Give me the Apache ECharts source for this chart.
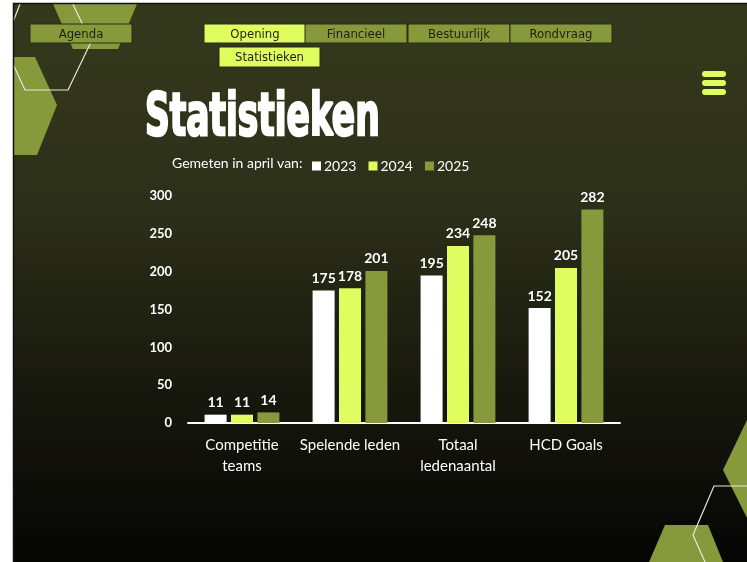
<!DOCTYPE html>
<html>
<head>
<meta charset="utf-8">
<script src="https://cdn.jsdelivr.net/npm/echarts@6/dist/echarts.min.js"></script>
<style>
  html, body { margin: 0; padding: 0; background: #fff; }
  #chart { width: 747px; height: 562px; }
</style>
</head>
<body>
<div id="chart"></div>
<script>
// data
var categories = ['Competitie\nteams', 'Spelende leden', 'Totaal\nledenaantal', 'HCD Goals'];
var years = ['2023', '2024', '2025'];
var values2023 = [11, 175, 195, 152];
var values2024 = [11, 178, 234, 205];
var values2025 = [14, 201, 248, 282];
var yTicks = [0, 50, 100, 150, 200, 250, 300];
var navTop = ['Opening', 'Financieel', 'Bestuurlijk', 'Rondvraag'];

var lime = '#dffd5e';
var olive = '#869a3c';
var font = 'Lato, "Open Sans", sans-serif';
var navFont = '"DejaVu Sans Condensed", sans-serif';

var chart = echarts.init(document.getElementById('chart'));

// decorations & navigation boxes (not data)
function navBox(x, y, w, h, text, fill) {
  return {
    type: 'group', x: x, y: y, z: 5,
    children: [
      { type: 'rect', shape: { x: 0, y: 0, width: w, height: h },
        style: { fill: fill, stroke: '#2a2c16', lineWidth: 1 } },
      { type: 'text', x: w / 2, y: h / 2 + 1,
        style: { text: text, fill: '#1d2010', font: '13px ' + navFont, align: 'center', verticalAlign: 'middle' } }
    ]
  };
}

var graphics = [
  // slide background
  { type: 'rect', z: -10, shape: { x: 13, y: 4, width: 734, height: 558 },
    style: { fill: new echarts.graphic.LinearGradient(0, 0, 0, 1, [
      { offset: 0, color: '#35391c' },
      { offset: 0.35, color: '#2d3019' },
      { offset: 0.7, color: '#17180d' },
      { offset: 1, color: '#050504' }
    ]) } },
  // top-left shapes
  { type: 'polygon', z: -5, shape: { points: [[53, 4], [137, 4], [118, 49], [73, 49]] }, style: { fill: olive } },
  { type: 'polygon', z: -5, shape: { points: [[13, 57], [35, 57], [57, 105], [37, 155], [13, 155]] }, style: { fill: olive } },
  { type: 'polyline', z: -4, shape: { points: [[13, 64], [25, 90], [68, 90], [91, 42], [70, -2]] },
    style: { stroke: '#e8e8e0', lineWidth: 1.2, fill: null } },
  { type: 'polyline', z: -4, shape: { points: [[13, 22], [20, 4]] },
    style: { stroke: '#e8e8e0', lineWidth: 1.2, fill: null } },
  // bottom-right shapes
  { type: 'polygon', z: -5, shape: { points: [[747, 420], [723, 470], [747, 518]] }, style: { fill: olive } },
  { type: 'polygon', z: -5, shape: { points: [[665, 525], [708, 525], [723, 562], [649, 562]] }, style: { fill: olive } },
  { type: 'polyline', z: -4, shape: { points: [[747, 486], [714, 486], [693, 535], [705, 562]] },
    style: { stroke: '#e8e8e0', lineWidth: 1.2, fill: null } },
  // hamburger icon
  { type: 'rect', z: 5, shape: { x: 702, y: 71, width: 24, height: 6, r: 3 }, style: { fill: lime } },
  { type: 'rect', z: 5, shape: { x: 702, y: 80, width: 24, height: 6, r: 3 }, style: { fill: lime } },
  { type: 'rect', z: 5, shape: { x: 702, y: 89, width: 24, height: 6, r: 3 }, style: { fill: lime } },
  // title
  { type: 'text', z: 5, x: 145, y: 149, scaleX: 0.66,
    style: { text: 'Statistieken', fill: '#fff', stroke: '#fff', lineWidth: 2.5,
      font: 'bold 58px ' + navFont, verticalAlign: 'bottom' } },
  // legend caption
  { type: 'text', z: 5, x: 172, y: 163,
    style: { text: 'Gemeten in april van:', fill: '#fff', font: '14px ' + font, verticalAlign: 'middle' } },
  navBox(30, 24, 102, 19, 'Agenda', olive),
  navBox(219, 47, 101, 20, 'Statistieken', lime),
  // frame
  { type: 'rect', z: 20, shape: { x: 0, y: 0, width: 13, height: 562 }, style: { fill: '#fff' } },
  { type: 'rect', z: 20, shape: { x: 0, y: 0, width: 747, height: 3 }, style: { fill: '#fff' } },
  { type: 'polyline', z: 21, shape: { points: [[13.5, 562], [13.5, 3.5], [747, 3.5]] },
    style: { stroke: '#111', lineWidth: 1.5, fill: null } }
];

var navX = [204, 305, 408, 510];
navTop.forEach(function (t, i) {
  graphics.push(navBox(navX[i], 24, 102, 19, t, i === 0 ? lime : olive));
});

var seriesData = [values2023, values2024, values2025];
var seriesColors = ['#ffffff', lime, olive];

var series = years.map(function (y, i) {
  return {
    name: y,
    type: 'bar',
    data: seriesData[i],
    barWidth: 22,
    barGap: '20%',
    itemStyle: { color: seriesColors[i] },
    label: {
      show: true, position: 'top', distance: 5,
      color: '#fff', fontFamily: font, fontSize: 14, fontWeight: 'bold'
    }
  };
});

chart.setOption({
  backgroundColor: '#fff',
  animation: false,
  graphic: graphics,
  legend: {
    data: years,
    left: 307, top: 154,
    icon: 'rect', itemWidth: 9, itemHeight: 9, itemGap: 12,
    textStyle: { color: '#fff', fontFamily: font, fontSize: 14, padding: [0, 0, 0, -2] }
  },
  grid: { left: 188, right: 127, top: 196, bottom: 139 },
  xAxis: {
    type: 'category',
    data: categories,
    axisLine: { lineStyle: { color: '#fff', width: 2 } },
    axisTick: { show: false },
    axisLabel: { color: '#fff', fontFamily: font, fontSize: 15, margin: 12, lineHeight: 21, interval: 0 }
  },
  yAxis: {
    type: 'value',
    min: yTicks[0], max: yTicks[yTicks.length - 1], interval: 50,
    splitLine: { show: false },
    axisLine: { show: false },
    axisTick: { show: false },
    axisLabel: { color: '#fff', fontFamily: font, fontSize: 13, fontWeight: 'bold', margin: 16 }
  },
  series: series
});
</script>
</body>
</html>
